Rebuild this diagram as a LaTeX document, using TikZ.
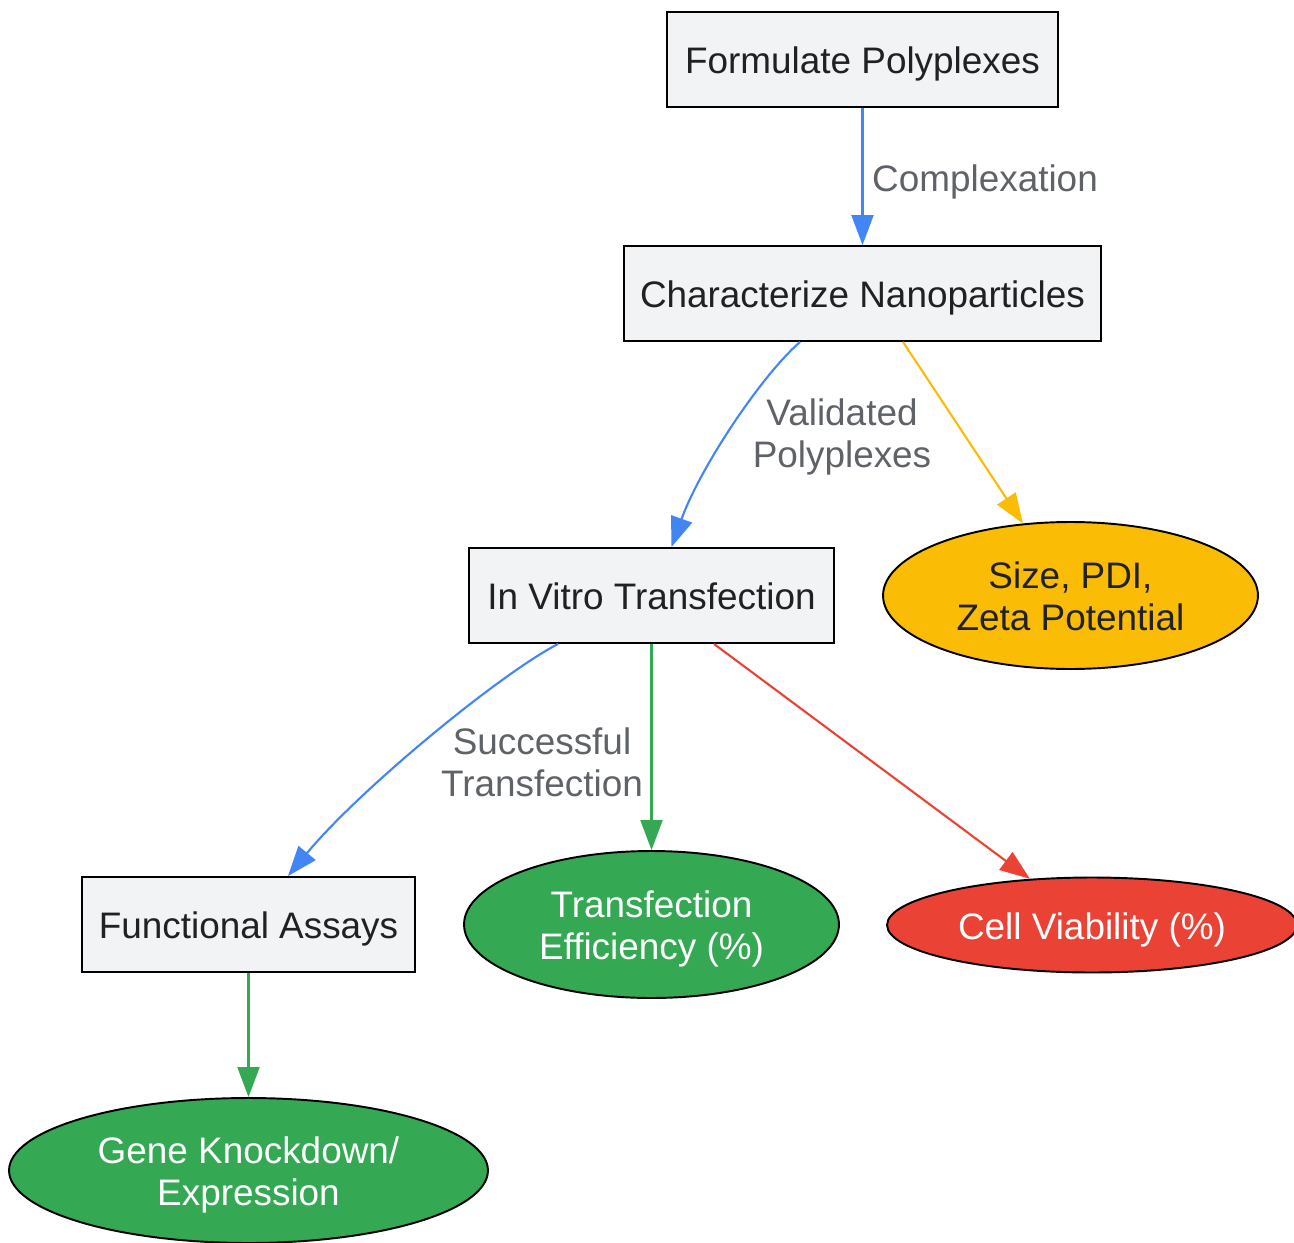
\documentclass[tikz,border=0pt]{standalone}
\usepackage{fontspec}
\setmainfont{Liberation Sans}
\usetikzlibrary{shapes.geometric,arrows.meta}
\definecolor{gblue}{HTML}{4285F4}
\definecolor{gyellow}{HTML}{FBBC05}
\definecolor{ggreen}{HTML}{34A853}
\definecolor{gred}{HTML}{EA4335}
\definecolor{boxgray}{HTML}{F1F3F4}
\definecolor{ink}{HTML}{202124}
\definecolor{note}{HTML}{5F6368}

\begin{document}
\begin{tikzpicture}[x=0.02cm,y=-0.02cm,
    txt/.style={font=\fontsize{21}{24}\selectfont,align=center},
    one/.style={text height=0.56cm,text depth=0cm},
    two/.style={text height=1.4cm,text depth=0cm},
    box/.style={txt,one,draw,line width=1.1pt,fill=boxgray,text=ink,minimum height=1.9cm,inner sep=0pt},
    blob/.style={txt,ellipse,draw,line width=1.1pt,inner sep=0pt},
    edge/.style={line width=1.2pt,-{Triangle[length=0.6cm,width=0.44cm]}},
    elabel/.style={txt,text=note}]
    \useasboundingbox (0,0) rectangle (1294,1243);

    \node[box,minimum width=7.82cm] (form) at (862.5,59.5) {Formulate Polyplexes};
    \node[box,minimum width=9.54cm] (char) at (862.5,293.5) {Characterize Nanoparticles};
    \node[box,minimum width=7.3cm] (vitro) at (651.5,595.5) {In Vitro Transfection};
    \node[box,minimum width=6.66cm] (assay) at (248.5,924.5) {Functional Assays};
    \node[blob,two,fill=gyellow,text=ink,minimum width=7.5cm,minimum height=2.94cm] (size) at (1070.5,595.5) {Size, PDI,\\Zeta Potential};
    \node[blob,two,fill=ggreen,text=white,minimum width=7.5cm,minimum height=2.94cm] (eff) at (651.5,924.5) {Transfection\\Efficiency (\%)};
    \node[blob,one,fill=gred,text=white,minimum width=8.2cm,minimum height=1.9cm] (viab) at (1092,925) {Cell Viability (\%)};
    \node[blob,two,fill=ggreen,text=white,minimum width=9.58cm,minimum height=2.9cm] (gene) at (248.5,1170.5) {Gene Knockdown/\\Expression};

    \draw[edge,gblue] (form) -- (char);
    \draw[edge,gblue] ([xshift=-1.25cm]char.south) .. controls +(-40,35) and +(28,-78) .. ([xshift=0.4cm]vitro.north);
    \draw[edge,gyellow] ([xshift=0.81cm]char.south) -- (size);
    \draw[edge,gblue] ([xshift=-1.87cm]vitro.south) .. controls +(-58,30) and +(72,-87) .. ([xshift=0.79cm]assay.north);
    \draw[edge,ggreen] (vitro) -- (eff);
    \draw[edge,gred] ([xshift=1.25cm]vitro.south) -- (viab);
    \draw[edge,ggreen] (assay) -- (gene);

    \node[elabel,one,anchor=west] (lcomp) at (866,178) {Complexation};
    \node[elabel,two] (lvalid) at (842,433) {Validated\\Polyplexes};
    \node[elabel,two] (lsucc) at (542,762) {Successful\\Transfection};
\end{tikzpicture}
\end{document}
